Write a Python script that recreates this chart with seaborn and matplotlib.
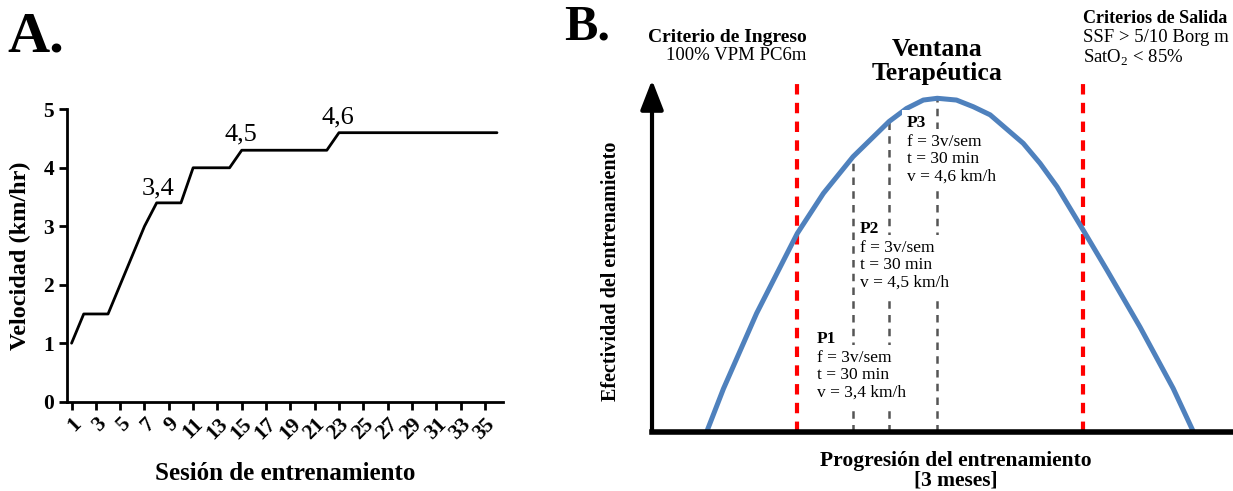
import matplotlib
matplotlib.use("Agg")
import matplotlib.pyplot as plt
import seaborn as sns
import pandas as pd

# ---- panel A: velocity per session
sesion = list(range(1, 37))
velocidad = [1.0, 1.5, 1.5, 1.5, 2.0, 2.5, 3.0, 3.4, 3.4, 3.4, 4.0, 4.0,
             4.0, 4.0, 4.3, 4.3, 4.3, 4.3, 4.3, 4.3, 4.3, 4.3, 4.6, 4.6,
             4.6, 4.6, 4.6, 4.6, 4.6, 4.6, 4.6, 4.6, 4.6, 4.6, 4.6, 4.6]
etiquetas = ["3,4", "4,5", "4,6"]
etiqueta_x = [8.1, 14.9, 22.9]
etiqueta_y = [3.55, 4.47, 4.76]
xticks_a = list(range(1, 37, 2))

# ---- panel B: therapeutic window (schematic)
progresion = [9.4, 12.3, 18.0, 25.0, 29.5, 34.6, 40.8, 43.8, 46.7, 49.1,
              52.4, 55.3, 58.2, 63.9, 66.8, 69.7, 74.2, 78.3, 84.0, 89.7, 93.2]
efectividad = [0.0, 12.3, 33.7, 56.4, 67.8, 78.2, 88.2, 91.9, 94.3, 94.8,
               94.3, 92.4, 90.1, 82.0, 76.3, 69.7, 57.4, 46.0, 29.8, 12.4, 0.0]
criterios_x = [25.0, 74.2]
fases = ["P1", "P2", "P3"]
fase_x = [34.6, 40.8, 49.1]
fase_top = [77.5, 88.5, 94.5]
fase_vel = ["3,4", "4,5", "4,6"]
texto_x = [28.4, 35.8, 43.9]
texto_y = [28.6, 59.9, 90.0]

sns.set_theme(style="ticks")
plt.rcParams["font.family"] = ["Liberation Serif", "DejaVu Serif"]
plt.rcParams["mathtext.fontset"] = "custom"
plt.rcParams["mathtext.rm"] = "Liberation Serif"
plt.rcParams["axes.edgecolor"] = "black"
plt.rcParams["axes.labelcolor"] = "black"
plt.rcParams["text.color"] = "black"
plt.rcParams["xtick.color"] = "black"
plt.rcParams["ytick.color"] = "black"

fig = plt.figure(figsize=(12.33, 4.91), dpi=100)

# ---------------- A
axA = fig.add_axes([0.0541, 0.1819, 0.3539, 0.5955])
df_a = pd.DataFrame({"sesion": sesion, "velocidad": velocidad})
sns.lineplot(data=df_a, x="sesion", y="velocidad", ax=axA, color="black", lw=2)
axA.set_xlim(0.6, 36.5)
axA.set_ylim(0, 5)
sns.despine(ax=axA)
for s in ["left", "bottom"]:
    axA.spines[s].set_linewidth(2)
axA.set_yticks(range(6))
axA.set_xticks(xticks_a)
axA.set_xticklabels([str(v) for v in xticks_a], rotation=45, ha="right",
                    rotation_mode="anchor")
axA.tick_params(direction="out", length=6, width=2, labelsize=15.5, pad=3)
for lbl in axA.get_xticklabels() + axA.get_yticklabels():
    lbl.set_fontweight("bold")
axA.set_ylabel("Velocidad (km/hr)", fontsize=17.5, fontweight="bold", labelpad=9)
axA.set_xlabel("Sesión de entrenamiento", fontsize=18, fontweight="bold", labelpad=13)
for t, x, y in zip(etiquetas, etiqueta_x, etiqueta_y):
    axA.text(x, y, t, ha="center", va="baseline", fontsize=19)

fig.text(7 / 1233, 1 - 12 / 491, "A.", ha="left", va="top", fontsize=42, fontweight="bold")
fig.text(564 / 1233, 1 - 4 / 491, "B.", ha="left", va="top", fontsize=36, fontweight="bold")

# ---------------- B
axB = fig.add_axes([0.5288, 0.1202, 0.4712, 0.7169])
df_b = pd.DataFrame({"progresion": progresion, "efectividad": efectividad})
sns.lineplot(data=df_b, x="progresion", y="efectividad", ax=axB,
             color="#4F81BD", lw=3.6, zorder=2)
axB.lines[0].set_solid_joinstyle("round")
axB.set_xlim(0, 100)
axB.set_ylim(0, 100)
for s in ["top", "right", "left"]:
    axB.spines[s].set_visible(False)
axB.spines["bottom"].set_linewidth(4)
axB.set_xticks([])
axB.set_yticks([])
axB.set_xlabel("")
axB.set_ylabel("")

axB.annotate("", xy=(0, 1.0), xytext=(0, 0), xycoords="axes fraction",
             textcoords="axes fraction", annotation_clip=False,
             arrowprops=dict(arrowstyle="-|>,head_width=0.35,head_length=0.9",
                             lw=3, color="black", shrinkA=0, shrinkB=0,
                             mutation_scale=20))

for x in criterios_x:
    axB.plot([x, x], [0, 100], color="red", lw=3, ls=(0, (2.5, 2)), zorder=1)
for x, top in zip(fase_x, fase_top):
    axB.plot([x, x], [0, top], color="#555555", lw=1.8, ls=(0, (3, 2.5)), zorder=1)

box = dict(boxstyle="square,pad=0.3", facecolor="white", edgecolor="none")
for f, v, x, y in zip(fases, fase_vel, texto_x, texto_y):
    axB.text(x, y, f, ha="left", va="top", fontsize=12.5, fontweight="bold",
             bbox=box, zorder=4)
    axB.text(x, y - 5.3, "f = 3v/sem\nt = 30 min\nv = %s km/h" % v,
             ha="left", va="top", fontsize=12.5, linespacing=1.1,
             bbox=box, zorder=4)

axB.text(49.05, 112.0, "Ventana\nTerapéutica", ha="center", va="top",
         fontsize=18.5, fontweight="bold", linespacing=1.05)
axB.text(26.6, 114.4, "Criterio de Ingreso", ha="right", va="top",
         fontsize=14, fontweight="bold")
axB.text(26.6, 109.4, "100% VPM PC6m", ha="right", va="top", fontsize=13.5)
axB.text(74.2, 119.9, "Criterios de Salida", ha="left", va="top",
         fontsize=13, fontweight="bold")
axB.text(74.2, 114.6, "SSF > 5/10 Borg m", ha="left", va="top", fontsize=13.5)
axB.text(74.2, 109.3, "SatO$_2$ < 85%", ha="left", va="top", fontsize=13.5)

axB.text(-7.06, 45.7, "Efectividad del entrenamiento", rotation=90,
         ha="center", va="center", fontsize=14.5, fontweight="bold")
axB.text(52.3, -5.4, "Progresión del entrenamiento\n[3 meses]", ha="center",
         va="top", fontsize=15.5, fontweight="bold", linespacing=1.0)

fig.savefig("out.png", dpi=100)
